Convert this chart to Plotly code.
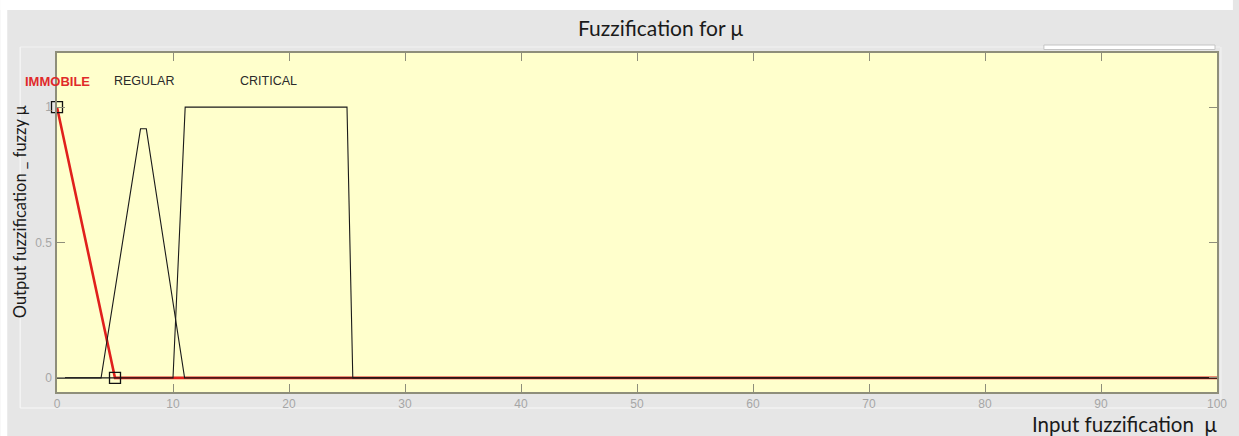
import plotly.graph_objects as go

# Membership functions over the input range 0..100
x_range = [0, 100]

immobile_x = [0, 5, 100]
immobile_y = [1, 0, 0]

regular_x = [0, 3.8, 7.2, 7.7, 11.0, 100]
regular_y = [0, 0, 0.92, 0.92, 0, 0]

critical_x = [0, 10.0, 11.05, 25.0, 25.5, 100]
critical_y = [0, 0, 1, 1, 0, 0]

# Parameter handles of the selected function
handle_x = [0, 5]
handle_y = [1, 0]

# Function names and where they sit above the curves
mf_names = ["IMMOBILE", "REGULAR", "CRITICAL"]
mf_label_x = [0, 7.5, 18.25]
mf_label_y = 1.096

x_ticks = list(range(0, 101, 10))
y_ticks = [0, 0.5, 1]

W, H = 1239, 436
L, R, T, B = 57, 16, 53, 44
PW, PH = W - L - R, H - T - B


def px(xp):
    return (xp - L) / PW


def py(yp):
    return (H - B - yp) / PH


axis_col = "#8e8e7a"
tick_font = dict(family="Liberation Sans, Arial, sans-serif", size=12, color="#a6a6a6")

fig = go.Figure()

# black, unselected functions drawn over the red one
fig.add_trace(go.Scatter(x=immobile_x, y=immobile_y, mode="lines",
                         line=dict(color="#e0201c", width=2.6), hoverinfo="skip"))
fig.add_trace(go.Scatter(x=regular_x, y=regular_y, mode="lines",
                         line=dict(color="#1a1a1a", width=1.1), hoverinfo="skip"))
fig.add_trace(go.Scatter(x=critical_x, y=critical_y, mode="lines",
                         line=dict(color="#1a1a1a", width=1.1), hoverinfo="skip"))
fig.add_trace(go.Scatter(x=handle_x, y=handle_y, mode="markers",
                         marker=dict(symbol="square-open", size=11,
                                     color="#111111", line=dict(width=1.3)),
                         hoverinfo="skip", cliponaxis=False))

label_style = {
    "IMMOBILE": dict(size=13, color="#e02a2a", weight="bold"),
    "REGULAR": dict(size=12.5, color="#2a2a2a", weight="normal"),
    "CRITICAL": dict(size=12.5, color="#2a2a2a", weight="normal"),
}
for name, lx in zip(mf_names, mf_label_x):
    fig.add_annotation(x=lx, y=mf_label_y, xref="x", yref="y", text=name,
                       showarrow=False, xanchor="center", yanchor="middle",
                       font=dict(family="Liberation Sans, Arial, sans-serif",
                                 **label_style[name]))

# titles
fig.add_annotation(x=px(664), y=py(28), xref="paper", yref="paper",
                   text="Fuzzification for μ", showarrow=False,
                   xanchor="center", yanchor="middle",
                   font=dict(family="Lato, sans-serif", size=21, color="#1a1a1a"))
fig.add_annotation(x=px(1225), y=py(423.5), xref="paper", yref="paper",
                   text="Input fuzzification  μ", showarrow=False,
                   xanchor="right", yanchor="middle",
                   font=dict(family="Lato, sans-serif", size=20.5, color="#1a1a1a"))
fig.add_annotation(x=px(20), y=py(212), xref="paper", yref="paper",
                   text="Output fuzzification _ fuzzy μ", showarrow=False,
                   textangle=-90, xanchor="center", yanchor="middle",
                   font=dict(family="Lato, sans-serif", size=16.5, color="#1a1a1a"))

shapes = [
    # white border outside the grey figure panel
    dict(type="rect", xref="paper", yref="paper", x0=px(0), x1=px(W), y0=py(10), y1=py(0),
         fillcolor="white", line=dict(width=0), layer="below"),
    dict(type="rect", xref="paper", yref="paper", x0=px(0), x1=px(7), y0=py(H), y1=py(0),
         fillcolor="white", line=dict(width=0), layer="below"),
    # light frame around the axes region
    dict(type="line", xref="paper", yref="paper", x0=px(20), x1=px(20), y0=py(408), y1=py(47),
         line=dict(color="#f7f7f7", width=1.2), layer="below"),
    dict(type="line", xref="paper", yref="paper", x0=px(20), x1=px(1226), y0=py(408), y1=py(408),
         line=dict(color="#f7f7f7", width=1.2), layer="below"),
    dict(type="line", xref="paper", yref="paper", x0=px(20), x1=px(1226), y0=py(47), y1=py(47),
         line=dict(color="#f2f2f2", width=1.2), layer="below"),
    dict(type="line", xref="paper", yref="paper", x0=px(1227), x1=px(1227), y0=py(408), y1=py(47),
         line=dict(color="#f2f2f2", width=1.2), layer="below"),
    # small blank bar at top right
    dict(type="rect", xref="paper", yref="paper", x0=px(1049), x1=px(1221), y0=py(49.5), y1=py(45),
         fillcolor="white", line=dict(color="#c4c4c4", width=1), layer="below"),
]

axis_common = dict(showgrid=False, zeroline=False, showline=True, linecolor=axis_col,
                   linewidth=1.5, mirror="ticks", ticks="inside", ticklen=8,
                   tickcolor=axis_col, tickwidth=1.3, tickfont=tick_font, fixedrange=True)

fig.update_layout(
    width=W, height=H,
    margin=dict(l=L, r=R, t=T, b=B, pad=0),
    paper_bgcolor="#e6e6e6",
    plot_bgcolor="#ffffcc",
    showlegend=False,
    shapes=shapes,
    xaxis=dict(range=x_range, tickvals=x_ticks, ticktext=[str(v) for v in x_ticks],
               ticklabelstandoff=0, **axis_common),
    yaxis=dict(range=[-0.052, 1.2], tickvals=y_ticks, ticktext=["0", "0.5", "1"],
               ticklabelstandoff=1, **axis_common),
)

fig.write_html("out.html")
